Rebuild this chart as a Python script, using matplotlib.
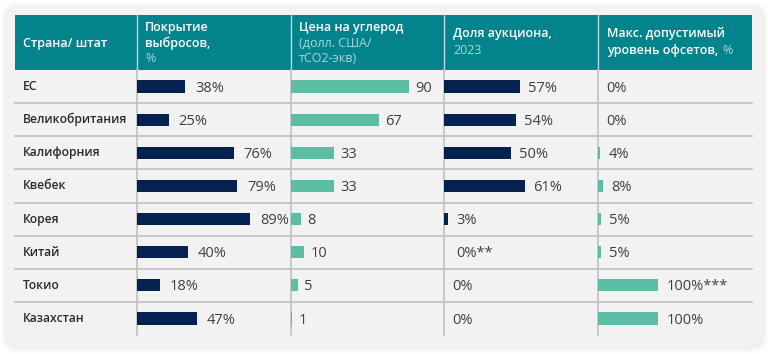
import matplotlib.pyplot as plt
import matplotlib.patches as mpatches
import matplotlib.transforms as mtransforms

plt.rcParams['font.family'] = ['Open Sans', 'DejaVu Sans']

# data
countries = ['ЕС', 'Великобритания', 'Калифорния', 'Квебек', 'Корея', 'Китай', 'Токио', 'Казахстан']
coverage = [38, 25, 76, 79, 89, 40, 18, 47]
price = [90, 67, 33, 33, 8, 10, 5, 1]
auction = [57, 54, 50, 61, 3, 0, 0, 0]
auction_labels = ['57%', '54%', '50%', '61%', '3%', '0%**', '0%', '0%']
offsets = [0, 0, 4, 8, 5, 5, 100, 100]
offset_labels = ['0%', '0%', '4%', '8%', '5%', '5%', '100%***', '100%']

NAVY = '#04214f'
GREEN = '#5bbda2'
HEAD = '#03838c'
TXT = '#404040'

W, H = 768, 354
col_x = [15, 137, 291, 444, 598, 752]
head_top, head_bot, body_bot = 15, 70, 335
n = len(countries)
row_h = (body_bot - head_bot) / n

fig = plt.figure(figsize=(W / 100, H / 100), dpi=100, facecolor='white')

# background layer in pixel coords
bg = fig.add_axes([0, 0, 1, 1])
bg.set_xlim(0, W)
bg.set_ylim(H, 0)
bg.axis('off')

# soft shadow + card
for pad, a in [(5, 0.03), (3, 0.04), (1.5, 0.06)]:
    bg.add_patch(mpatches.FancyBboxPatch((5 - pad + 1, 5 - pad + 2), 757 + 2 * pad, 341 + 2 * pad,
                                         boxstyle='round,pad=0,rounding_size=16',
                                         fc='#808080', ec='none', alpha=a))
bg.add_patch(mpatches.FancyBboxPatch((5, 5), 757, 341, boxstyle='round,pad=0,rounding_size=15',
                                     fc='#f2f2f2', ec='none'))

# header
bg.add_patch(mpatches.Rectangle((col_x[0], head_top), col_x[-1] - col_x[0], head_bot - head_top,
                                fc=HEAD, ec='none'))
for x in col_x[1:-1]:
    bg.plot([x, x], [head_top, head_bot], color='#b9d6d9', lw=1)
    bg.plot([x, x], [head_bot, body_bot], color='#c4c4c4', lw=1.3)
for k in range(1, n):
    y = head_bot + k * row_h
    bg.plot([col_x[0], col_x[-1]], [y, y], color='#c4c4c4', lw=1.3)

# header text
hb = dict(color='white', fontsize=9, fontweight='semibold', va='center')
hl = dict(color='#a9d8dc', fontsize=9, va='center')
bg.text(23, 43, 'Страна/ штат', **hb)
bg.text(145, 28, 'Покрытие', **hb)
bg.text(145, 43.5, 'выбросов,', **hb)
bg.text(145, 59, '%', **hl)
bg.text(299, 28, 'Цена на углерод', **hb)
bg.text(299, 43.5, '(долл. США/', **hl)
bg.text(299, 59, 'тСО2-экв)', **hl)
bg.text(453, 34, 'Доля аукциона,', **hb)
bg.text(453, 50.5, '2023', **hl)
bg.text(607, 34, 'Макс. допустимый', **hb)
t = bg.text(607, 50.5, 'уровень офсетов,', **hb)
bg.annotate('%', xy=(1, 0.5), xycoords=t, xytext=(3, 0), textcoords='offset points',
            ha='left', **hl)


def column(i, values, labels, color, px_per_unit, gap):
    x0, x1 = col_x[i], col_x[i + 1]
    ax = fig.add_axes([x0 / W, 1 - body_bot / H, (x1 - x0) / W, (body_bot - head_bot) / H])
    ax.patch.set_alpha(0)
    ax.set_xlim(0, (x1 - x0) / px_per_unit)
    ax.set_ylim(n - 0.5, -0.5)
    ax.axis('off')
    ax.barh(range(n), values, height=0.37, color=color)
    for j, (v, lab) in enumerate(zip(values, labels)):
        g = gap + 3 if lab.endswith('**') and v == 0 else gap
        ax.annotate(lab, (v, j + 0.05), xytext=(g, 0), textcoords='offset points',
                    va='center', ha='left', fontsize=10.5, color=TXT)
    return ax


ax1 = column(1, coverage, [f'{v}%' for v in coverage], NAVY, 1.27, 7)
column(2, price, [str(v) for v in price], GREEN, 1.31, 4.5)
column(3, auction, auction_labels, NAVY, 1.33, 6)
column(4, offsets, offset_labels, GREEN, 0.6, 6)

# country names
tr = mtransforms.blended_transform_factory(bg.transData, ax1.transData)
for j, c in enumerate(countries):
    bg.text(23, j, c, transform=tr, va='center', ha='left', fontsize=8.7,
            fontweight='semibold', color='#2b2b2b')

fig.savefig('out.png', dpi=100, facecolor='white')
